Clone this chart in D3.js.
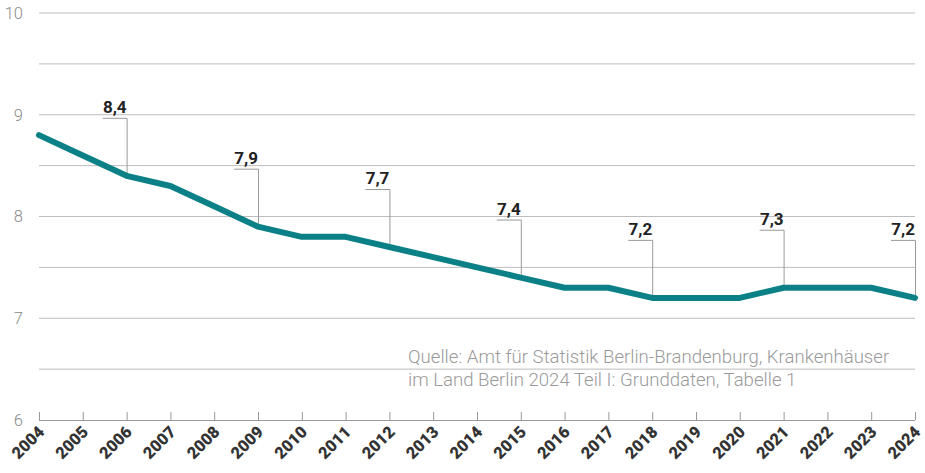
<!DOCTYPE html>
<html>
<head>
<meta charset="utf-8">
<script src="https://cdn.jsdelivr.net/npm/d3@7"></script>
<style>
  body { margin: 0; background: #fff; }
  svg { display: block; }
</style>
</head>
<body>
<div id="chart-area"></div>
<script>
// Data
var years = [2004, 2005, 2006, 2007, 2008, 2009, 2010, 2011, 2012, 2013, 2014,
             2015, 2016, 2017, 2018, 2019, 2020, 2021, 2022, 2023, 2024]
var values = [8.8, 8.6, 8.4, 8.3, 8.1, 7.9, 7.8, 7.8, 7.7, 7.6, 7.5,
              7.4, 7.3, 7.3, 7.2, 7.2, 7.2, 7.3, 7.3, 7.3, 7.2]
var labelYears = [2006, 2009, 2012, 2015, 2018, 2021, 2024]
var yTicks = [6, 7, 8, 9, 10]
var yGrid = [6.5, 7, 7.5, 8, 8.5, 9, 9.5, 10]
var sourceLines = ["Quelle: Amt für Statistik Berlin-Brandenburg, Krankenhäuser",
                   "im Land Berlin 2024 Teil I: Grunddaten, Tabelle 1"]

var data = years.map((y, i) => ({year: y, value: values[i]}))

var W = 925, H = 473
var margin = {top: 13, right: 10, bottom: 53, left: 39},
    width = W - margin.left - margin.right,
    height = H - margin.top - margin.bottom

var svg = d3.select("#chart-area")
    .append("svg")
        .attr("width", W)
        .attr("height", H)

var g = svg.append("g")
    .attr("transform", "translate(" + margin.left + ", " + margin.top + ")")

var x = d3.scaleLinear().domain([2004, 2024]).range([0, width])
var y = d3.scaleLinear().domain([6, 10]).range([height, 0])

// Grid lines
g.selectAll(".grid")
    .data(yGrid)
    .enter().append("line")
        .attr("x1", 0)
        .attr("x2", width)
        .attr("y1", d => y(d))
        .attr("y2", d => y(d))
        .attr("stroke", "#bdbdbd")
        .attr("stroke-width", 1)

// Y labels
g.selectAll(".ylab")
    .data(yTicks)
    .enter().append("text")
        .attr("x", -16)
        .attr("y", d => y(d))
        .attr("dy", "0.35em")
        .attr("text-anchor", "end")
        .attr("font-family", "Roboto")
        .attr("font-weight", 300)
        .attr("font-size", 16.5)
        .attr("fill", "#8a8a8a")
        .text(d => d)

// X axis
var xAxisCall = d3.axisBottom(x)
    .tickValues(years)
    .tickSize(-8)
    .tickFormat(d3.format("d"))
var xAxis = g.append("g")
    .attr("transform", "translate(0, " + height + ")")
    .call(xAxisCall)
xAxis.select(".domain").attr("stroke", "#999").attr("d", "M0,0.5H" + width)
xAxis.selectAll(".tick line").attr("stroke", "#999")
xAxis.selectAll(".tick text")
    .attr("font-family", "Roboto")
    .attr("font-weight", 900)
    .attr("font-size", 16.5)
    .attr("fill", "#333")
    .attr("text-anchor", "end")
    .attr("dy", null)
    .attr("y", 0)
    .attr("transform", "translate(6, 13) rotate(-45)")

// Source text
g.selectAll(".source")
    .data(sourceLines)
    .enter().append("text")
        .attr("x", 369)
        .attr("y", (d, i) => 350 + i * 23)
        .attr("font-family", "Roboto")
        .attr("font-weight", 300)
        .attr("font-size", 18.6)
        .attr("fill", "#9a9a9a")
        .text(d => d)

// Callouts
var labelData = data.filter(d => labelYears.indexOf(d.year) >= 0)
var callout = g.selectAll(".callout")
    .data(labelData)
    .enter().append("g")

callout.append("path")
    .attr("d", d => "M" + (x(d.year) - 24) + "," + (y(d.value) - 57.5) +
                    "H" + (x(d.year) + 0.5) + "V" + y(d.value))
    .attr("fill", "none")
    .attr("stroke", "#9a9a9a")
    .attr("stroke-width", 1)

callout.append("text")
    .attr("x", d => x(d.year))
    .attr("y", d => y(d.value) - 63)
    .attr("text-anchor", "end")
    .attr("font-family", "Roboto")
    .attr("font-weight", 700)
    .attr("font-size", 17)
    .attr("fill", "#222")
    .text(d => d3.format(".1f")(d.value).replace(".", ","))

// Line
var line = d3.line()
    .x(d => x(d.year))
    .y(d => y(d.value))

g.append("path")
    .datum(data)
    .attr("fill", "none")
    .attr("stroke", "#0b8187")
    .attr("stroke-width", 6)
    .attr("stroke-linecap", "round")
    .attr("stroke-linejoin", "round")
    .attr("d", line)
</script>
</body>
</html>
